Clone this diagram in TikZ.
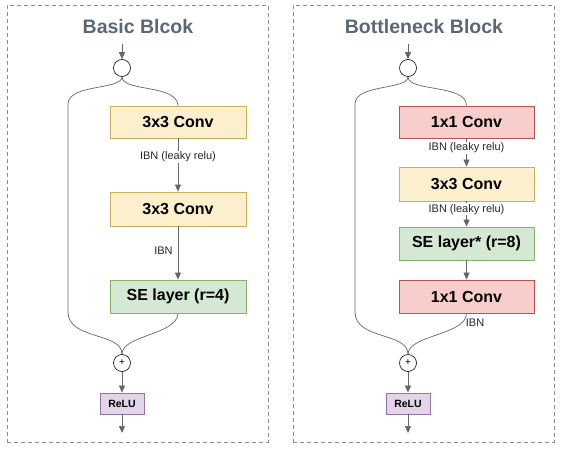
\documentclass[tikz,border=0pt]{standalone}
\usepackage{fontspec}
\setmainfont{Liberation Sans}
\usetikzlibrary{arrows.meta}
\definecolor{ylwF}{HTML}{FCEFCB}\definecolor{ylwD}{HTML}{C9AE62}
\definecolor{redF}{HTML}{F8CECC}\definecolor{redD}{HTML}{B85450}
\definecolor{grnF}{HTML}{D5E8D4}\definecolor{grnD}{HTML}{82B366}
\definecolor{purF}{HTML}{E1D5E7}\definecolor{purD}{HTML}{9673A6}
\definecolor{ttl}{HTML}{5C6675}
\definecolor{lnc}{HTML}{666666}
\begin{document}
\begin{tikzpicture}[x=1pt,y=-1pt,
  panel/.style={draw=black!45,dashed,dash pattern=on 4pt off 3pt,line width=0.8pt,minimum width=261pt,minimum height=437pt,inner sep=0},
  title/.style={text=ttl,font=\bfseries\fontsize{19.5}{23}\selectfont},
  blk/.style={draw,line width=0.8pt,minimum width=136pt,inner sep=0,font=\bfseries\fontsize{16}{19}\selectfont},
  yb/.style={blk,fill=ylwF,draw=ylwD},
  rb/.style={blk,fill=redF,draw=redD},
  gb/.style={blk,fill=grnF,draw=grnD},
  relu/.style={draw=purD,fill=purF,line width=0.8pt,minimum width=44pt,minimum height=21pt,inner sep=0,font=\bfseries\fontsize{10.5}{12}\selectfont},
  op/.style={circle,draw,line width=0.6pt,minimum size=17pt,inner sep=0,font=\fontsize{10}{12}\selectfont},
  con/.style={draw=lnc,line width=0.7pt},
  arr/.style={con,-{Triangle[length=7pt,width=6pt]}},
  lbl/.style={font=\fontsize{11}{13}\selectfont,text=black!85,inner sep=1pt}
]
\useasboundingbox (0,0) rectangle (561,449);
% panels
\node[panel] (pL) at (137.5,223.5) {};
\node[panel] (pR) at (423.5,223.5) {};
\node[title] (tL) at (138,27) {Basic Blcok};
\node[title] (tR) at (424,27) {Bottleneck Block};
% ---- basic block
\coordinate (inL) at (122,44);
\node[op] (cL) at (122,68) {};
\node[yb,minimum height=32pt] (b1) at (178,122) {3x3 Conv};
\node[yb,minimum height=34pt] (b2) at (178,209) {3x3 Conv};
\node[gb,minimum height=33pt] (b3) at (178,296.5) {SE layer (r=4)};
\node[op] (pL1) at (122,363) {+};
\node[relu] (reL) at (122,403.5) {ReLU};
\coordinate (outL) at (122,433);
\draw[arr] (inL) -- (cL);
\draw[con] (cL.south) .. controls (122,92) and (177,84) .. (b1.north);
\draw[con] (cL.south) .. controls (122,90) and (68,84) .. (68,104) -- (68,312)
  .. controls (68,340) and (122,332) .. (pL1.north);
\draw[con] (b3.south) .. controls (177,335) and (122,335) .. (pL1.north);
\draw[arr] (b1) -- node[lbl,pos=0.35,fill=white]{IBN (leaky relu)} (b2);
\draw[arr] (b2) -- node[lbl,pos=0.46,left=4pt]{IBN} (b3);
\draw[arr] (pL1) -- (reL);
\draw[arr] (reL) -- (outL);
% ---- bottleneck block
\coordinate (inR) at (408,44);
\node[op] (cR) at (408,68) {};
\node[rb,minimum height=32pt,minimum width=135pt] (r1) at (466.5,122) {1x1 Conv};
\node[yb,minimum height=34pt,minimum width=135pt] (r2) at (466.5,184) {3x3 Conv};
\node[gb,minimum height=33pt,minimum width=135pt] (r3) at (466.5,243.5) {SE layer* (r=8)};
\node[rb,minimum height=33pt,minimum width=135pt] (r4) at (466.5,296.5) {1x1 Conv};
\node[op] (pR1) at (408,363) {+};
\node[relu] (reR) at (408,403.5) {ReLU};
\coordinate (outR) at (408,433);
\draw[arr] (inR) -- (cR);
\draw[con] (cR.south) .. controls (408,92) and (466.5,84) .. (r1.north);
\draw[con] (cR.south) .. controls (408,90) and (355,84) .. (355,104) -- (355,312)
  .. controls (355,340) and (408,332) .. (pR1.north);
\draw[con] (r4.south) .. controls (466.5,335) and (408,335) .. node[lbl,pos=0.18,right=3pt]{IBN} (pR1.north);
\draw[arr] (r1) -- node[lbl,pos=0.34,fill=white]{IBN (leaky relu)} (r2);
\draw[arr] (r2) -- node[lbl,pos=0.31,fill=white]{IBN (leaky relu)} (r3);
\draw[arr] (r3) -- (r4);
\draw[arr] (pR1) -- (reR);
\draw[arr] (reR) -- (outR);
\end{tikzpicture}
\end{document}
